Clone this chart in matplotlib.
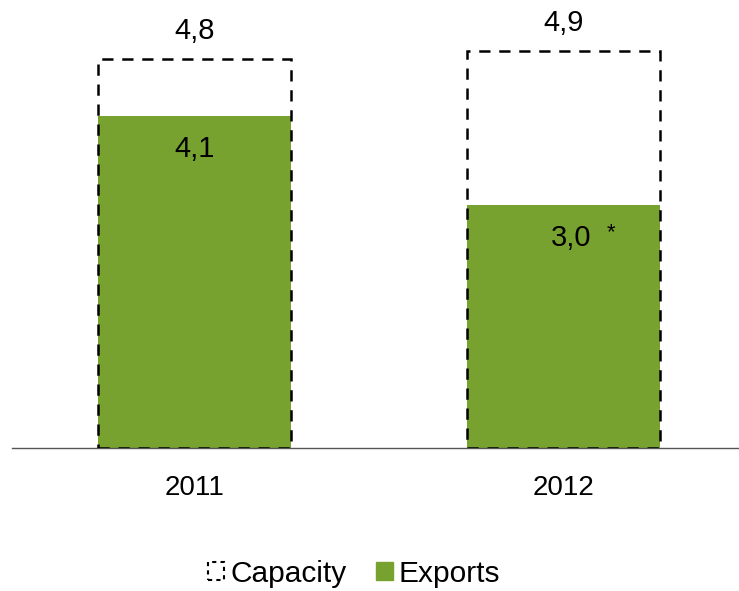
import matplotlib.pyplot as plt
from matplotlib.patches import Patch

years = ["2011", "2012"]
capacity = [4.8, 4.9]
exports = [4.1, 3.0]
capacity_labels = ["4,8", "4,9"]
export_labels = ["4,1", "3,0"]

green = "#78A22F"
plt.rcParams["font.family"] = ["Liberation Sans", "DejaVu Sans"]

fig = plt.figure(figsize=(7.39, 5.91), dpi=100)
ax = fig.add_axes([12 / 739, 143 / 591, 727 / 739, 448 / 591])

x = [0, 1]
width = 0.523
ax.bar(x, exports, width=width, color=green, zorder=2)
ax.bar(x, capacity, width=width, facecolor="none", edgecolor="black",
       linewidth=1.8, linestyle=(0, (4.5, 3.5)), zorder=3)

for xi, cap, lab in zip(x, capacity, capacity_labels):
    ax.text(xi, cap + 0.35, lab, ha="center", va="center", fontsize=21)
for xi, exp, lab in zip(x, exports, export_labels):
    ax.text(xi + (0.02 if xi else 0), exp - 0.41, lab, ha="center", va="center",
            fontsize=21, zorder=4)
# note marker next to the 2012 value
ax.text(1 + 0.129, exports[1] - 0.34, "*", ha="center", va="center", fontsize=16, zorder=4)

ax.set_xlim(-0.4946, 1.4756)
ax.set_ylim(0, 5.53)
ax.set_xticks(x)
ax.set_xticklabels(years, fontsize=20)
ax.tick_params(axis="x", length=0, pad=19.5)
ax.set_yticks([])
for side in ["top", "right", "left"]:
    ax.spines[side].set_visible(False)
ax.spines["bottom"].set_color("#555555")
ax.spines["bottom"].set_linewidth(1.0)

handles = [
    Patch(facecolor="none", edgecolor="black", linewidth=1.5, linestyle=(0, (2, 2))),
    Patch(facecolor=green, edgecolor=green),
]
fig.legend(handles, ["Capacity", "Exports"], loc="center", bbox_to_anchor=(0.479, 1 - 574 / 591),
           ncol=2, frameon=False, fontsize=21.5, handlelength=0.55, handleheight=0.55,
           handletextpad=0.2, columnspacing=1.0)

fig.savefig("out.png", dpi=100)
